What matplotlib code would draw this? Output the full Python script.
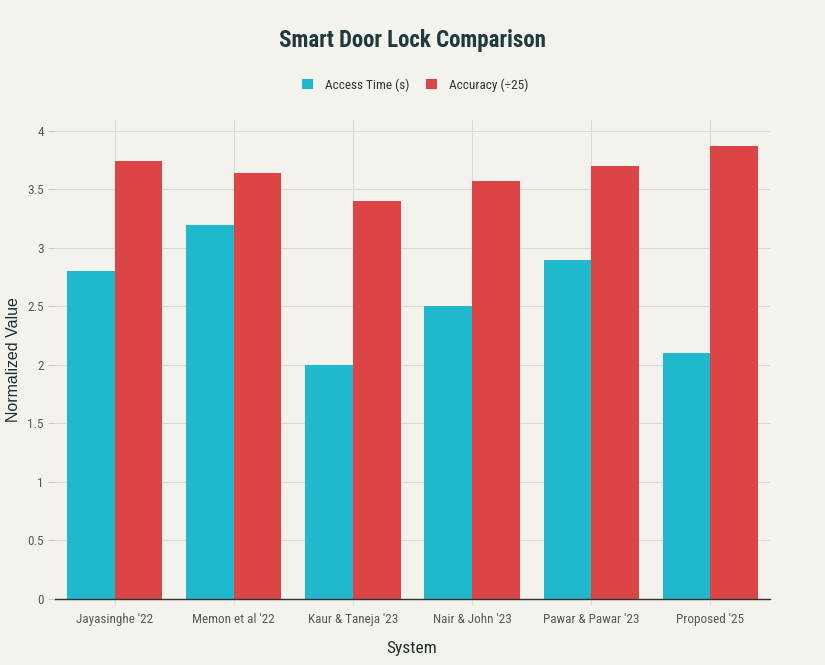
import matplotlib
matplotlib.use("Agg")
import matplotlib.pyplot as plt
import numpy as np

systems = ["Jayasinghe '22", "Memon et al '22", "Kaur & Taneja '23", "Nair & John '23", "Pawar & Pawar '23", "Proposed '25"]
access_time = [2.8, 3.2, 2.0, 2.5, 2.9, 2.1]
accuracy_scaled = [3.74, 3.64, 3.40, 3.57, 3.70, 3.87]
series_names = ["Access Time (s)", "Accuracy (÷25)"]
colors = ["#1FB8CD", "#DB4545"]
yticks = [0, 0.5, 1, 1.5, 2, 2.5, 3, 3.5, 4]
ytick_labels = ["0", "0.5", "1", "1.5", "2", "2.5", "3", "3.5", "4"]

bg = "#F3F2EC"
narrow = ["Roboto Condensed", "DejaVu Sans"]

fig = plt.figure(figsize=(8.25, 6.65), dpi=100, facecolor=bg)
ax = fig.add_axes([55/825, 1-599/665, 715/825, 479/665], facecolor=bg)

x = np.arange(len(systems))
w = 0.4
ax.bar(x - w/2, access_time, width=w, color=colors[0], label=series_names[0], zorder=3)
ax.bar(x + w/2, accuracy_scaled, width=w, color=colors[1], label=series_names[1], zorder=3)

ax.set_xlim(-0.5, len(systems) - 0.5)
ax.set_ylim(0, 4.094)
ax.set_yticks(yticks)
ax.set_yticklabels(ytick_labels, family=narrow, fontsize=9.5, color="#5A5A5A")
ax.set_xticks(x)
ax.set_xticklabels(systems, family=narrow, fontsize=9.5, color="#5A5A5A")
ax.tick_params(axis="y", length=5, color="#CCCCCC", pad=3)
ax.tick_params(axis="x", length=4, color="#DDDDDD", pad=6)

ax.grid(True, color="#D9D9D6", linewidth=0.8, zorder=0)
for s in ["top", "right", "left"]:
    ax.spines[s].set_visible(False)
ax.spines["bottom"].set_color("#333333")
ax.spines["bottom"].set_linewidth(1.0)
ax.spines["bottom"].set_zorder(4)

ax.set_ylabel("Normalized Value", fontsize=11.5, color="#1E2F33", family=["Liberation Sans", "DejaVu Sans"])
ax.yaxis.set_label_coords(-34/715, 0.5)
fig.text(412/825, 1-649/665, "System", ha="center", va="center", family=narrow, fontsize=12.5, color="#1E2F33")

fig.text(412/825, 1-41/665, "Smart Door Lock Comparison", ha="center", va="center",
         fontsize=16.5, fontweight="bold", color="#1E3A3D", family=narrow)

leg = fig.legend(loc="center", bbox_to_anchor=(415/825, 1-85/665), ncol=2, frameon=False,
                 prop={"family": narrow, "size": 9.5}, handlelength=0.8, handleheight=0.8,
                 handletextpad=0.9, columnspacing=1.3)
for t in leg.get_texts():
    t.set_color("#333333")

fig.savefig("out.png", dpi=100, facecolor=bg)
